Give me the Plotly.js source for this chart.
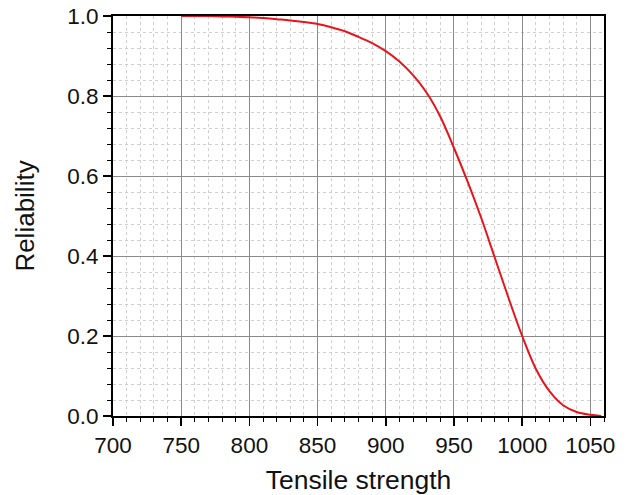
<!DOCTYPE html>
<html>
<head>
<meta charset="utf-8">
<script src="https://cdn.plot.ly/plotly-3.0.1.min.js"></script>
<style>html,body{margin:0;padding:0;background:#fff;}#chart{width:628px;height:495px;}</style>
</head>
<body>
<div id="chart"></div>
<script>
var strength = [750,760,770,780,790,800,810,820,830,840,850,860,870,880,890,900,910,920,930,940,950,960,970,980,990,1000,1010,1020,1030,1040,1050,1058];
var reliability = [1.000,1.000,1.000,0.999,0.998,0.997,0.995,0.992,0.989,0.985,0.980,0.972,0.962,0.948,0.932,0.912,0.886,0.852,0.808,0.748,0.670,0.586,0.495,0.395,0.295,0.200,0.118,0.062,0.027,0.010,0.003,0.000];
var xTicks = [700,750,800,850,900,950,1000,1050];
var yTicks = [0,0.2,0.4,0.6,0.8,1.0];
var yTickText = ['0.0','0.2','0.4','0.6','0.8','1.0'];

var trace = {
  x: strength, y: reliability, mode: 'lines', type: 'scatter',
  line: {color: '#e8141c', width: 2, shape: 'spline'}, hoverinfo: 'skip'
};
var font = {family: 'Liberation Sans, Arial, sans-serif', color: '#111'};
var layout = {
  width: 628, height: 495,
  margin: {l: 113, r: 24, t: 16, b: 79},
  paper_bgcolor: '#fff', plot_bgcolor: '#fff',
  showlegend: false,
  font: font,
  xaxis: {
    range: [700, 1060], tickmode: 'array', tickvals: xTicks, ticktext: xTicks.map(String),
    ticks: 'outside', ticklen: 8, tickwidth: 1.5, tickcolor: '#000',
    showline: true, linecolor: '#000', linewidth: 2, mirror: true,
    showgrid: true, gridcolor: '#8a8a8a', gridwidth: 1,
    zeroline: false,
    tickfont: {family: font.family, size: 22.5, color: '#111'},
    minor: {dtick: 10, tick0: 700, ticks: 'outside', ticklen: 4, tickwidth: 1, tickcolor: '#000', showgrid: true, gridcolor: '#d0d0d0', griddash: 'dot', gridwidth: 1},
    title: {text: 'Tensile strength', font: {family: font.family, size: 26.5, color: '#111'}, standoff: 19}
  },
  yaxis: {
    range: [0, 1], tickmode: 'array', tickvals: yTicks, ticktext: yTickText,
    ticks: 'outside', ticklen: 8, tickwidth: 1.5, tickcolor: '#000',
    showline: true, linecolor: '#000', linewidth: 2, mirror: true,
    showgrid: true, gridcolor: '#8a8a8a', gridwidth: 1,
    zeroline: false,
    tickfont: {family: font.family, size: 22.5, color: '#111'},
    minor: {dtick: 0.04, tick0: 0, ticks: 'outside', ticklen: 4, tickwidth: 1, tickcolor: '#000', showgrid: true, gridcolor: '#d0d0d0', griddash: 'dot', gridwidth: 1},
    title: {text: 'Reliability', font: {family: font.family, size: 26, color: '#111'}, standoff: 25}
  }
};
Plotly.newPlot('chart', [trace], layout, {displayModeBar: false, staticPlot: true});
</script>
</body>
</html>
